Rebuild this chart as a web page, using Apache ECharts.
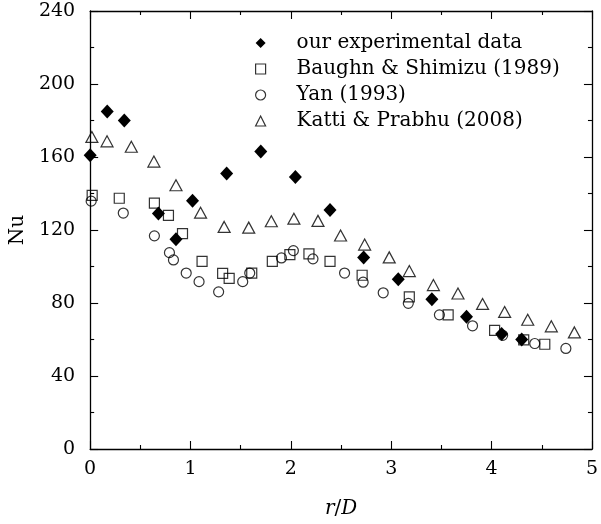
<!DOCTYPE html>
<html><head><meta charset="utf-8">
<script src="https://cdn.jsdelivr.net/npm/echarts@6/dist/echarts.min.js"></script>
<style>html,body{margin:0;padding:0;background:#fff}#c{width:601px;height:524px}</style>
</head><body><div id="c"></div>
<script>
const seriesNames = ['our experimental data','Baughn & Shimizu (1989)','Yan (1993)','Katti & Prabhu (2008)'];
const ourData = [[0,161],[0.17,185],[0.34,180],[0.68,129],[0.855,115],[1.02,136],[1.36,151],[1.70,163],[2.045,149],[2.39,131],[2.725,105],[3.07,93],[3.405,82],[3.75,72.5],[4.10,63],[4.30,60]];
const baughnData = [[0.02,139],[0.29,137.4],[0.64,134.7],[0.78,128],[0.92,118],[1.115,102.8],[1.32,96.2],[1.385,93.5],[1.61,96.4],[1.815,102.8],[1.99,106.5],[2.18,106.9],[2.39,102.8],[2.71,95.2],[3.18,83.4],[3.567,73.5],[4.03,65],[4.32,59.8],[4.53,57.4]];
const yanData = [[0.01,135.8],[0.33,129.3],[0.64,116.8],[0.79,107.6],[0.83,103.6],[0.957,96.4],[1.085,91.7],[1.28,86.1],[1.52,91.7],[1.59,96.4],[1.906,104.7],[2.025,108.7],[2.22,104.2],[2.535,96.4],[2.72,91.4],[2.92,85.6],[3.17,79.8],[3.48,73.5],[3.81,67.5],[4.11,62.3],[4.43,57.8],[4.74,55.1]];
const kattiData = [[0.017,171],[0.168,168.6],[0.41,165.6],[0.635,157.5],[0.855,144.5],[1.10,129.5],[1.335,121.7],[1.58,121.3],[1.805,124.8],[2.03,126.2],[2.27,125],[2.495,117],[2.735,112],[2.98,105],[3.18,97.5],[3.42,89.8],[3.665,85.2],[3.91,79.5],[4.13,75.1],[4.36,70.8],[4.595,67.2],[4.825,63.9]];
const xTicks = {min:0,max:5,interval:1};
const yTicks = {min:0,max:240,interval:40};

const FONT = 'DejaVu Serif';
const FS = 19;
const chart = echarts.init(document.getElementById('c'), null, {renderer:'canvas'});
const axisLine = {show:true, onZero:false, lineStyle:{color:'#000', width:1.3}};
const tick = {show:true, inside:true, length:8, lineStyle:{color:'#000', width:1.1}};
const minor = {show:true, splitNumber:2, length:4, lineStyle:{color:'#000', width:1.1}};
const hollow = {color:'rgba(255,255,255,0)', borderColor:'#000', borderWidth:1.2};
chart.setOption({
  animation:false,
  backgroundColor:'#fff',
  grid:{left:89, right:5, top:11, bottom:70, show:false},
  legend:{
    orient:'vertical', left:250, top:27, itemWidth:10, itemHeight:10, itemGap:4,
    textStyle:{fontFamily:FONT, fontSize:20, color:'#000', lineHeight:22, padding:[0,0,0,26]},
    data:[
      {name:seriesNames[0], icon:'diamond', itemStyle:{color:'#000', borderWidth:0}},
      {name:seriesNames[1], icon:'rect', itemStyle:{color:'rgba(255,255,255,0)', borderColor:'#000', borderWidth:1.2}},
      {name:seriesNames[2], icon:'circle', itemStyle:{color:'rgba(255,255,255,0)', borderColor:'#000', borderWidth:1.2}},
      {name:seriesNames[3], icon:'triangle', itemStyle:{color:'rgba(255,255,255,0)', borderColor:'#000', borderWidth:1.2}}
    ]
  },
  xAxis:[{
    type:'value', min:xTicks.min, max:xTicks.max, interval:xTicks.interval, position:'bottom',
    axisLine, axisTick:tick, minorTick:minor, splitLine:{show:false},
    axisLabel:{fontFamily:FONT, fontSize:FS, color:'#000', margin:11},
    name:'{i|r}/{i|D}', nameLocation:'middle', nameGap:50,
    nameTextStyle:{fontFamily:FONT, fontSize:20, color:'#000', rich:{i:{fontFamily:FONT, fontSize:20, fontStyle:'italic', color:'#000'}}}
  },{
    type:'value', min:xTicks.min, max:xTicks.max, interval:xTicks.interval, position:'top',
    axisLine, axisTick:tick, minorTick:minor, splitLine:{show:false}, axisLabel:{show:false}
  }],
  yAxis:[{
    type:'value', min:yTicks.min, max:yTicks.max, interval:yTicks.interval, position:'left',
    axisLine, axisTick:tick, minorTick:minor, splitLine:{show:false},
    axisLabel:{fontFamily:FONT, fontSize:FS, color:'#000', margin:15},
    name:'Nu', nameLocation:'middle', nameGap:62, nameRotate:90,
    nameTextStyle:{fontFamily:FONT, fontSize:20, color:'#000'}
  },{
    type:'value', min:yTicks.min, max:yTicks.max, interval:yTicks.interval, position:'right',
    axisLine, axisTick:tick, minorTick:minor, splitLine:{show:false}, axisLabel:{show:false}
  }],
  series:[
    {name:seriesNames[0], type:'scatter', data:ourData, symbol:'diamond', symbolSize:[13,14], itemStyle:{color:'#000', opacity:1}, z:5},
    {name:seriesNames[1], type:'scatter', data:baughnData, symbol:'rect', symbolSize:10, itemStyle:hollow},
    {name:seriesNames[2], type:'scatter', data:yanData, symbol:'circle', symbolSize:10, itemStyle:hollow},
    {name:seriesNames[3], type:'scatter', data:kattiData, symbol:'triangle', symbolSize:[12,11], itemStyle:hollow}
  ]
});
</script></body></html>
